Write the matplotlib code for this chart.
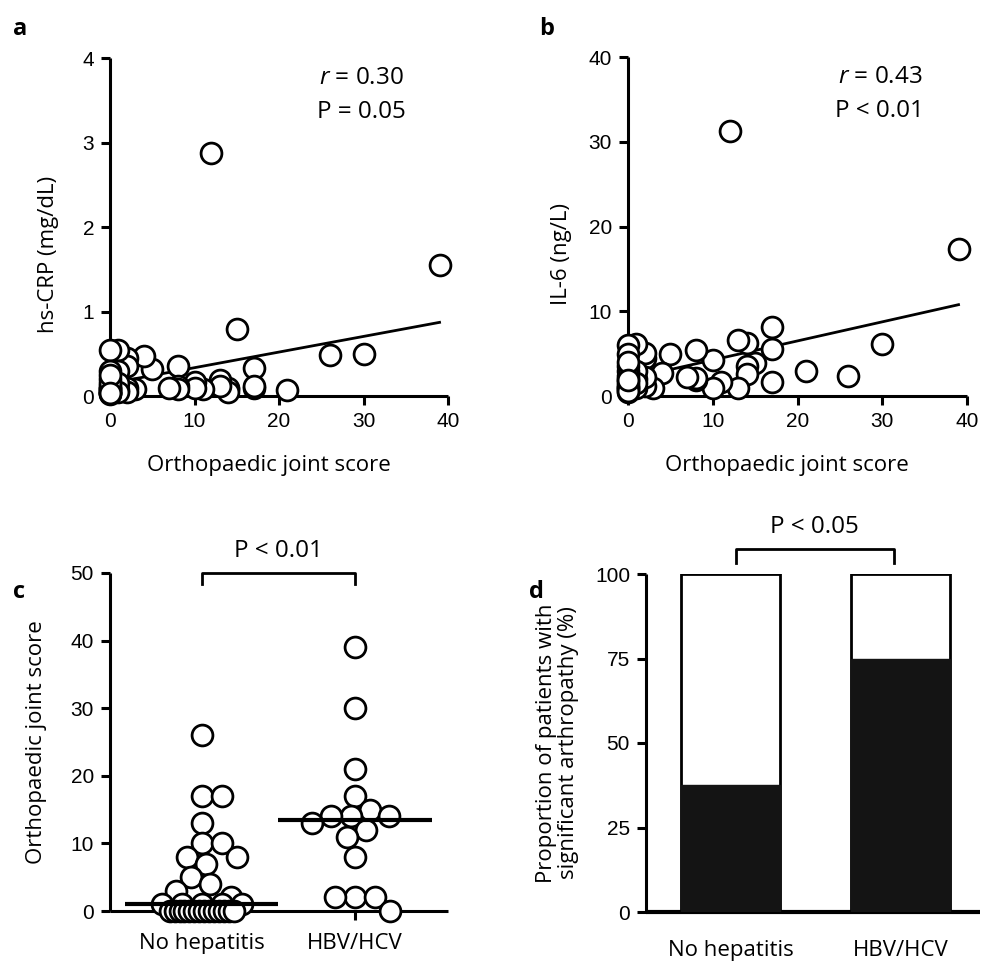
import numpy as np
import matplotlib
matplotlib.use("Agg")
import matplotlib.pyplot as plt

# ---------------- data ----------------
joint_score = [39, 30, 26, 21, 17, 17, 17, 15, 14, 14, 14, 13, 13, 12, 11, 10, 10,
               8, 8, 8, 7, 5, 4, 3, 2, 2, 2, 2, 1, 1, 1, 1, 1,
               0, 0, 0, 0, 0, 0, 0, 0, 0, 0, 0, 0, 0, 0, 0]
hs_crp = [1.55, 0.50, 0.48, 0.07, 0.33, 0.10, 0.12, 0.79, 0.08, 0.10, 0.05, 0.19, 0.12,
          2.87, 0.08, 0.16, 0.10, 0.35, 0.12, 0.08, 0.10, 0.32, 0.47, 0.08,
          0.45, 0.35, 0.10, 0.05, 0.54, 0.30, 0.07, 0.15, 0.05,
          0.54, 0.30, 0.08, 0.05, 0.03, 0.10, 0.20, 0.12, 0.06, 0.02, 0.04, 0.08, 0.15, 0.25, 0.03]
il6 = [17.3, 6.1, 2.4, 3.0, 8.1, 5.5, 1.7, 3.9, 6.2, 3.5, 2.6, 6.6, 0.9,
       31.3, 1.6, 4.3, 0.9, 5.4, 1.9, 2.1, 2.3, 5.0, 2.7, 1.0,
       4.5, 5.1, 1.2, 2.2, 6.1, 1.0, 2.0, 3.0, 1.5,
       6.0, 5.0, 2.9, 1.7, 1.0, 0.5, 2.0, 1.3, 3.5, 0.8, 2.4, 1.1, 4.0, 0.6, 1.9]
crp_fit = (0.15, 0.0185)   # intercept, slope
il6_fit = (2.0, 0.225)
r_a, p_a = "0.30", "P = 0.05"
r_b, p_b = "0.43", "P < 0.01"

groups = ["No hepatitis", "HBV/HCV"]
score_nohep = [26, 17, 17, 13, 10, 10, 8, 8, 7, 5, 4, 3, 2, 1, 1, 1, 1, 1,
               0, 0, 0, 0, 0, 0, 0, 0, 0, 0, 0, 0, 0, 0]
score_hbv = [39, 30, 21, 17, 15, 14, 14, 14, 13, 12, 11, 8, 2, 2, 2, 0]
p_c = "P < 0.01"

arthropathy_pct = [37.5, 75.0]
p_d = "P < 0.05"

# ---------------- style ----------------
TICKF = "Liberation Sans"
LABF = "Open Sans"
plt.rcParams["font.family"] = [TICKF, "DejaVu Sans"]
plt.rcParams["mathtext.fontset"] = "custom"
plt.rcParams["mathtext.it"] = "Open Sans:italic"
plt.rcParams["mathtext.rm"] = "Open Sans"

W, H = 990, 963
fig = plt.figure(figsize=(W / 100, H / 100), dpi=100)


def ax_px(l, r, t, b):
    return fig.add_axes([l / W, 1 - b / H, (r - l) / W, (b - t) / H])


def style(ax, lw=2.2):
    for s in ["top", "right"]:
        ax.spines[s].set_visible(False)
    for s in ["left", "bottom"]:
        ax.spines[s].set_linewidth(lw)
        ax.spines[s].set_capstyle("butt")
    ax.tick_params(width=lw, length=6.5, pad=5, labelsize=15, direction="out")
    ax.patch.set_alpha(0)


def ftext(x, y, s, **kw):
    fig.text(x / W, 1 - y / H, s, **kw)


LBL = dict(fontfamily=LABF, fontsize=16)
STAT = dict(fontfamily=LABF, fontsize=17.5)
MK = dict(marker="o", ms=15, mfc="white", mec="black", mew=2.0, ls="none",
          clip_on=False, zorder=4)

# ---------------- panel a ----------------
axa = ax_px(110, 448, 58, 396)
style(axa)
axa.set_xlim(0, 40)
axa.set_ylim(0, 4)
axa.set_xticks([0, 10, 20, 30, 40])
axa.set_yticks([0, 1, 2, 3, 4])
xs = np.array([min(joint_score), max(joint_score)], float)
axa.plot(xs, crp_fit[0] + crp_fit[1] * xs, color="black", lw=2.0, zorder=3, clip_on=False)
axa.plot(joint_score, hs_crp, **MK)
axa.set_xlabel("Orthopaedic joint score", **LBL)
axa.xaxis.set_label_coords(0.47, -0.175)
axa.set_ylabel("hs-CRP (mg/dL)", **LBL)
axa.yaxis.set_label_coords(-0.15, 0.42)
axa.text(0.745, 0.94, r"$r$ = " + r_a, transform=axa.transAxes, ha="center", va="center", **STAT)
axa.text(0.745, 0.84, p_a, transform=axa.transAxes, ha="center", va="center", **STAT)

# ---------------- panel b ----------------
axb = ax_px(628, 967, 57, 396)
style(axb)
axb.set_xlim(0, 40)
axb.set_ylim(0, 40)
axb.set_xticks([0, 10, 20, 30, 40])
axb.set_yticks([0, 10, 20, 30, 40])
axb.plot(xs, il6_fit[0] + il6_fit[1] * xs, color="black", lw=2.0, zorder=3, clip_on=False)
axb.plot(joint_score, il6, **MK)
axb.set_xlabel("Orthopaedic joint score", **LBL)
axb.xaxis.set_label_coords(0.47, -0.175)
axb.set_ylabel("IL-6 (ng/L)", **LBL)
axb.yaxis.set_label_coords(-0.165, 0.42)
axb.text(0.743, 0.94, r"$r$ = " + r_b, transform=axb.transAxes, ha="center", va="center", **STAT)
axb.text(0.743, 0.84, p_b, transform=axb.transAxes, ha="center", va="center", **STAT)

# ---------------- panel c ----------------
c_l, c_r, c_t, c_b = 110, 448, 573, 911
axc = ax_px(c_l, c_r, c_t, c_b)
style(axc)
cx0, cx1 = -0.598, 1.607
cy1 = 50
axc.set_xlim(cx0, cx1)
axc.set_ylim(0, cy1)
axc.set_yticks([0, 10, 20, 30, 40, 50])
axc.set_xticks([0, 1])
axc.set_xticklabels(groups, fontfamily=LABF, fontsize=16)
axc.tick_params(axis="x", pad=9)
xpx = (c_r - c_l) / (cx1 - cx0)
ypx = (c_b - c_t) / cy1


def swarm(vals, dmin=20.0, step=1.0, maxhalf=60.0, crowd=4, crowd_half=32.0):
    vals = np.asarray(vals, float)
    off = np.zeros(len(vals))
    done = np.zeros(len(vals), bool)
    placed = []
    u, cnt = np.unique(vals, return_counts=True)
    for uu, c in zip(u, cnt):
        if c >= crowd:
            idx = np.where(vals == uu)[0]
            half = min((c - 1) * dmin / 2, crowd_half + 12 * (uu > 0))
            off[idx] = np.linspace(-half, half, c)
            done[idx] = True
            placed += [(o, uu * ypx, 0.55) for o in off[idx]]
    cands = [0.0]
    k = 1
    while k * step <= maxhalf:
        cands += [k * step, -k * step]
        k += 1
    for i in np.argsort(-vals, kind="stable"):
        if done[i]:
            continue
        y = vals[i] * ypx
        best, bestd = 0.0, -1
        for c in cands:
            d = min([np.hypot(c - px, y - py) / f for px, py, f in placed] + [1e9])
            if d >= dmin:
                best = c
                break
            if d > bestd:
                bestd, best = d, c
        off[i] = best
        placed.append((best, y, 1.0))
    return off / xpx


for gi, vals in enumerate([score_nohep, score_hbv]):
    ox = swarm(vals)
    axc.plot(gi + ox, vals, **MK)
    med = np.median(vals)
    axc.plot([gi - 0.5, gi + 0.5], [med, med], color="black", lw=3.0, zorder=5,
             solid_capstyle="butt", clip_on=False)
axc.set_ylabel("Orthopaedic joint score", **LBL)
axc.yaxis.set_label_coords(-0.185, 0.5)
axc.plot([0, 0, 1, 1], [48.3, 50, 50, 48.3], color="black", lw=2.0, clip_on=False,
         solid_joinstyle="round")
axc.text(0.5, 53.3, p_c, ha="center", va="center", **STAT)

# ---------------- panel d ----------------
axd = ax_px(646, 980, 574, 912)
style(axd)
axd.spines["bottom"].set_linewidth(3.0)
axd.set_xlim(-0.499, 1.468)
axd.set_ylim(0, 100)
axd.set_yticks([0, 25, 50, 75, 100])
xd = np.arange(len(groups))
axd.bar(xd, [100] * len(groups), width=0.58, color="white", edgecolor="black", lw=2.0, zorder=2)
axd.bar(xd, arthropathy_pct, width=0.58, color="#141414", edgecolor="#141414", lw=1.0, zorder=3)
axd.set_xticks(xd)
axd.set_xticklabels(groups, fontfamily=LABF, fontsize=16)
axd.tick_params(axis="x", length=0, pad=20)
axd.set_ylabel("Proportion of patients with\nsignificant arthropathy (%)", linespacing=1.1, **LBL)
axd.yaxis.set_label_coords(-0.2, 0.5)
axd.plot([0.03, 0.03, 0.96, 0.96], [103.4, 107.4, 107.4, 103.4], color="black", lw=2.0,
         clip_on=False)
axd.text(0.49, 114, p_d, ha="center", va="center", **STAT)

# ---------------- panel letters ----------------
for s, x, y in [("a", 13, 35), ("b", 539, 35), ("c", 13, 598), ("d", 529, 598)]:
    ftext(x, y, s, fontfamily=LABF, fontweight="bold", fontsize=17, ha="left", va="baseline")

fig.savefig("out.png", dpi=100)
